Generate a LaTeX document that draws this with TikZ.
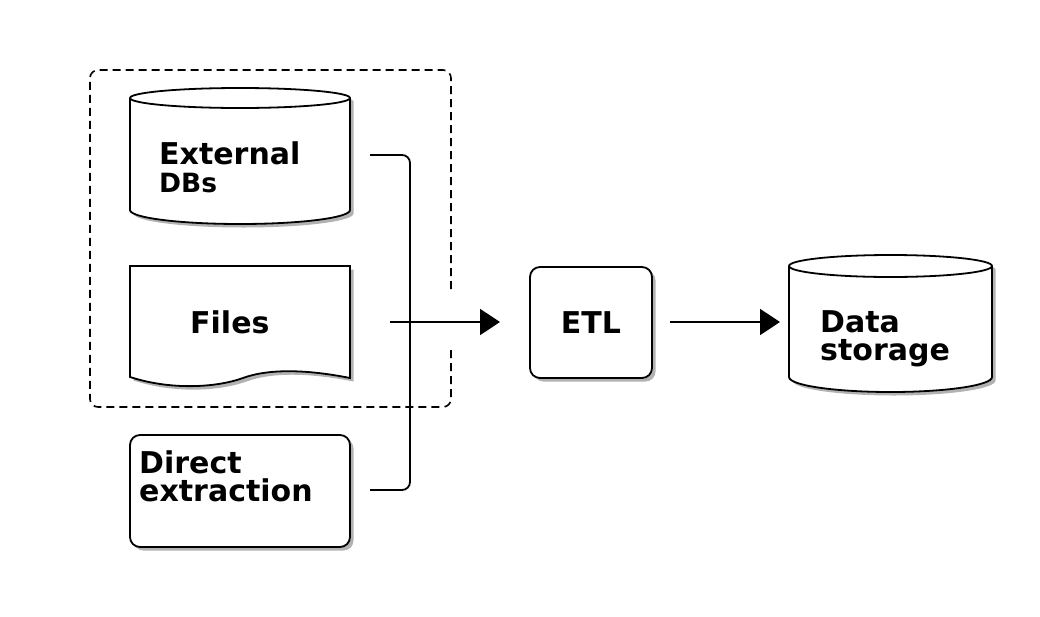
\documentclass[tikz,border=0pt]{standalone}
\usepackage{fontspec}
\setmainfont{DejaVu Sans}
\usetikzlibrary{arrows.meta,shadows}
\begin{document}
\begin{tikzpicture}[x=1pt,y=1pt,
  lw/.style={line width=1.8pt},
  shp/.style={lw, draw=black, fill=white, drop shadow={shadow xshift=3.5pt, shadow yshift=-3.5pt, opacity=0.3, fill=black}},
  boxnode/.style={shp, rounded corners=10pt, inner sep=0pt},
  lbl/.style={anchor=base west, inner sep=0pt, align=left, font=\bfseries\fontsize{30}{28}\selectfont},
  conn/.style={lw, rounded corners=8pt},
  arr/.style={lw, -{Triangle[length=20pt,width=26pt]}},
  grp/.style={line width=1.6pt, dash pattern=on 8pt off 5pt, rounded corners=8pt},
]
\useasboundingbox (0,0) rectangle (1040,-616);

% group (dashed, with gap where the arrow passes)
\draw[grp] (451,-350) -- (451,-407) -- (90,-407) -- (90,-70) -- (451,-70) -- (451,-293);

% External DBs cylinder
\path[shp] (130,-98) -- (130,-210) arc[start angle=180, end angle=360, x radius=110, y radius=14]
  -- (350,-98) arc[start angle=0, end angle=180, x radius=110, y radius=10] -- cycle;
\draw[lw] (130,-98) arc[start angle=180, end angle=360, x radius=110, y radius=10];
\node[lbl] (ext) at (159,-192) {External\\{\fontsize{26.5}{28}\selectfont DBs}};

% Files document
\path[shp] (130,-266) -- (130,-377) .. controls (170,-390) and (215,-388) .. (243,-378)
  .. controls (270,-368) and (310,-370) .. (350,-378) -- (350,-266) -- cycle;
\node[lbl] (files) at (190,-333) {Files};

% Direct extraction
\node[boxnode, minimum width=220pt, minimum height=112pt] (direct) at (240,-491) {};
\node[lbl] (dirlbl) at (139,-501) {Direct\\extraction};

% ETL
\node[boxnode, minimum width=122pt, minimum height=111pt, font=\bfseries\fontsize{30}{28}\selectfont] (etl) at (591,-322.5) {ETL};

% Data storage cylinder
\path[shp] (789,-266) -- (789,-377) arc[start angle=180, end angle=360, x radius=101.5, y radius=15]
  -- (992,-266) arc[start angle=0, end angle=180, x radius=101.5, y radius=11] -- cycle;
\draw[lw] (789,-266) arc[start angle=180, end angle=360, x radius=101.5, y radius=11];
\node[lbl] (ds) at (820,-360) {Data\\storage};

% connector endpoints
\coordinate (dbout) at (370,-155);
\coordinate (dirout) at (370,-490);
\coordinate (join) at (410,-322);
\coordinate (filesout) at (390,-322);
\coordinate (etlin) at (500,-322);
\coordinate (etlout) at (670,-322);
\coordinate (dsin) at (780,-322);

\draw[conn] (dbout) -| (join) |- (dirout);
\draw[arr] (filesout) -- (etlin);
\draw[arr] (etlout) -- (dsin);
\end{tikzpicture}
\end{document}
